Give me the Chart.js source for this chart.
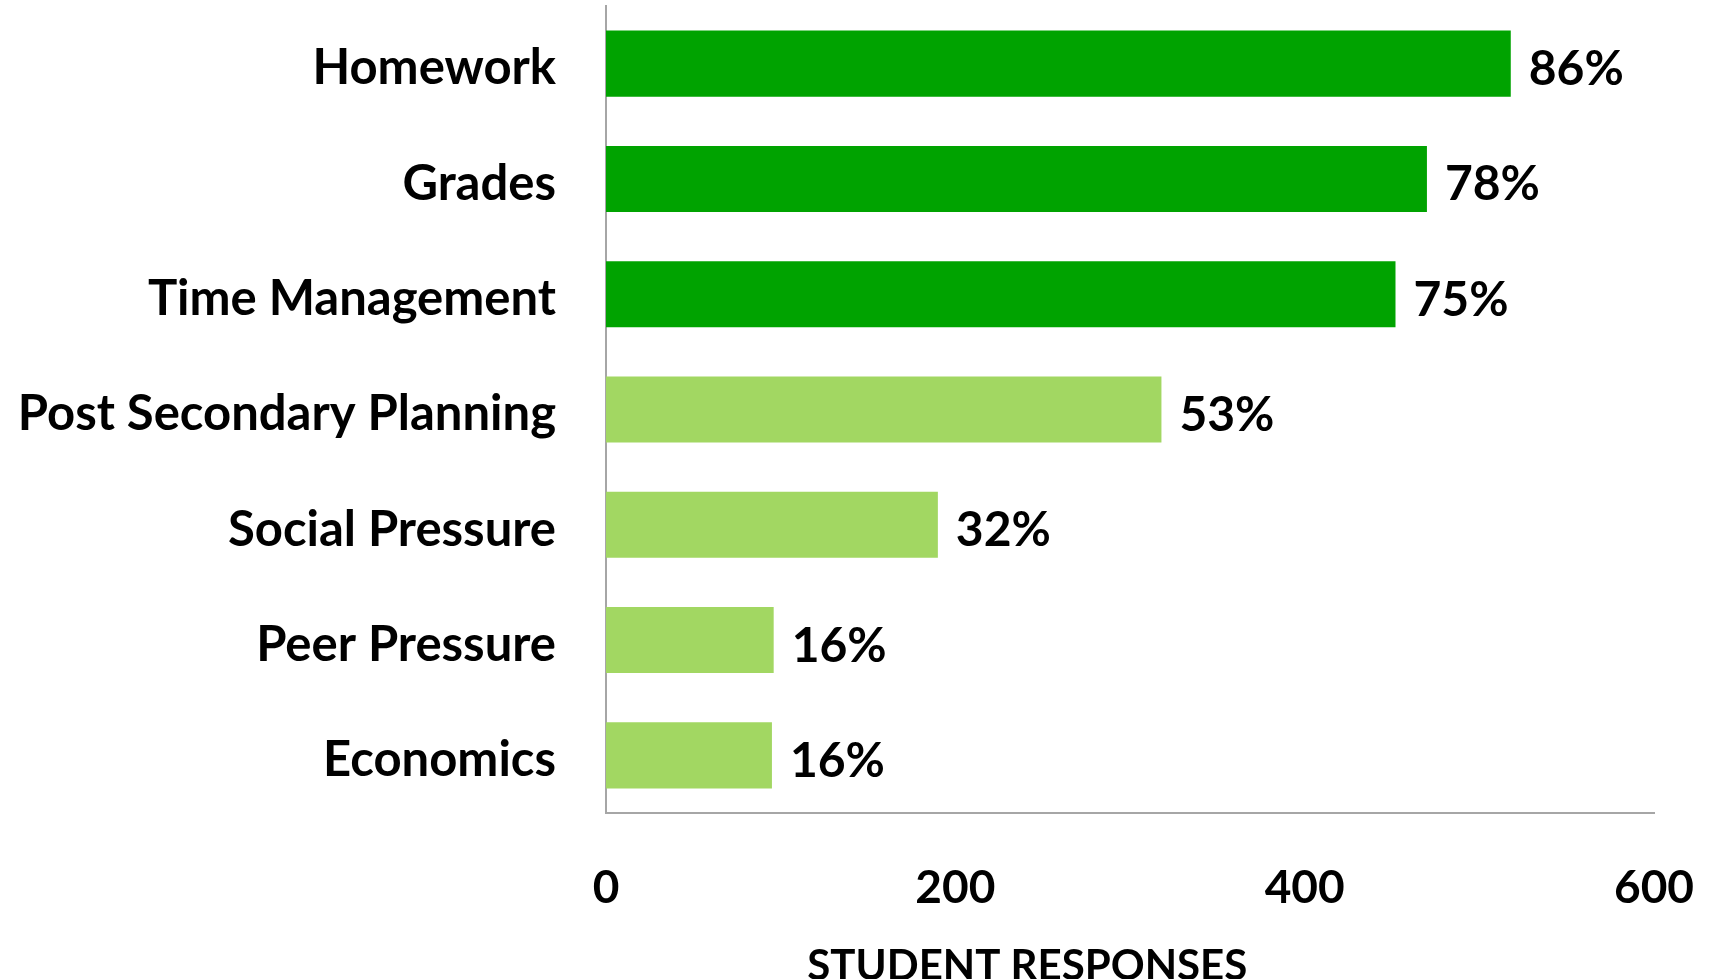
<!DOCTYPE html>
<html>
<head>
<meta charset="utf-8">
<script src="https://cdn.jsdelivr.net/npm/chart.js@4.4.0/dist/chart.umd.min.js"></script>
<style>
  html, body { margin: 0; padding: 0; background: #fff; }
  #wrap { width: 1714px; height: 979px; }
</style>
</head>
<body>
<div id="wrap"><canvas id="bars"></canvas></div>
<script>
// stress sources
const categories = ['Homework', 'Grades', 'Time Management', 'Post Secondary Planning', 'Social Pressure', 'Peer Pressure', 'Economics']
const responses = [518, 470, 452, 318, 190, 96, 95]
const percentLabels = ['86%', '78%', '75%', '53%', '32%', '16%', '16%']
const xTicks = [0, 200, 400, 600]
const axisTitle = 'STUDENT RESPONSES'

const darkGreen = '#00a300'
const lightGreen = '#a2d762'
const barColors = responses.map((v, i) => i < 3 ? darkGreen : lightGreen)

const fontFamily = 'Lato, "Open Sans", sans-serif'
const catFont = { family: fontFamily, size: 49, weight: 'bold' }
const tickFont = { family: fontFamily, size: 46, weight: 'bold' }

// percent text at the end of each bar
const percentPlugin = {
  id: 'percentPlugin',
  afterDatasetsDraw(chart) {
    const ctx = chart.ctx
    const meta = chart.getDatasetMeta(0)
    ctx.save()
    ctx.font = `bold 48px ${fontFamily}`
    ctx.fillStyle = '#000'
    ctx.textAlign = 'left'
    ctx.textBaseline = 'middle'
    meta.data.forEach((bar, i) => {
      ctx.fillText(percentLabels[i], bar.x + 18, bar.y + 6)
    })
    ctx.restore()
  }
}

// axis title sits left of the axis centre in the original, cut at the bottom
const axisTitlePlugin = {
  id: 'axisTitlePlugin',
  afterDraw(chart) {
    const ctx = chart.ctx
    const area = chart.chartArea
    ctx.save()
    ctx.font = `bold 42px ${fontFamily}`
    ctx.fillStyle = '#000'
    ctx.textAlign = 'center'
    ctx.textBaseline = 'alphabetic'
    ctx.fillText(axisTitle, area.left + area.width * 0.402, 980)
    ctx.restore()
  }
}

new Chart(document.getElementById('bars'), {
  type: 'bar',
  data: {
    labels: categories,
    datasets: [{
      data: responses,
      backgroundColor: barColors,
      barPercentage: 0.573,
      categoryPercentage: 1
    }]
  },
  options: {
    indexAxis: 'y',
    responsive: true,
    maintainAspectRatio: false,
    animation: false,
    layout: { padding: { top: 6, right: 60, bottom: 0, left: 0 } },
    plugins: {
      legend: { display: false },
      tooltip: { enabled: false }
    },
    scales: {
      x: {
        min: 0,
        max: 600,
        afterBuildTicks(scale) {
          scale.ticks = xTicks.map(v => ({ value: v }))
        },
        afterFit(scale) {
          scale.height = 166
          scale.paddingLeft = 0
          scale.paddingRight = 0
        },
        grid: { display: false, drawTicks: false },
        border: { display: true, color: '#a6a6a6', width: 2 },
        ticks: { color: '#000', font: tickFont, padding: 48, maxRotation: 0 }
      },
      y: {
        afterFit(scale) {
          scale.width = 606
          scale.paddingTop = 0
          scale.paddingBottom = 0
        },
        grid: { display: false, drawTicks: false },
        border: { display: true, color: '#a6a6a6', width: 2 },
        ticks: { color: '#000', font: catFont, padding: 50, labelOffset: 5 }
      }
    }
  },
  plugins: [percentPlugin, axisTitlePlugin]
})
</script>
</body>
</html>
